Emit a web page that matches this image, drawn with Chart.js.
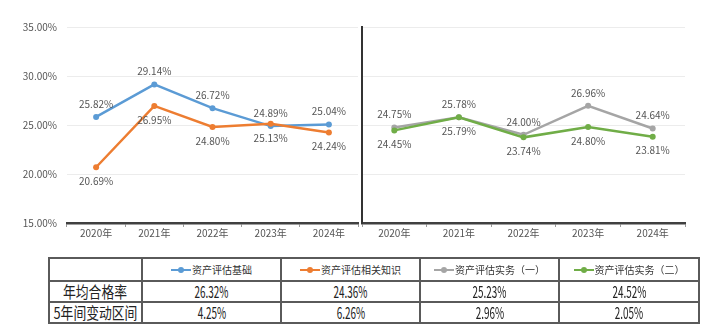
<!DOCTYPE html>
<html>
<head>
<meta charset="utf-8">
<script src="https://cdn.jsdelivr.net/npm/chart.js@4.4.1/dist/chart.umd.min.js"></script>
<style>
  html, body { margin: 0; padding: 0; background: #fff; width: 719px; height: 336px; overflow: hidden; }
  #left { position: absolute; left: 0; top: 0; width: 362px; height: 245px; }
  #right { position: absolute; left: 358px; top: 0; width: 331px; height: 245px; }
  table { position: absolute; left: 48px; top: 257px; border-collapse: collapse; width: 650px;
          font-family: "Noto Sans CJK SC", sans-serif; table-layout: fixed; }
  td { border: 2px solid #5a5a5a; text-align: center; padding: 0; color: #222; overflow: hidden; white-space: nowrap; }
  tr.h td { height: 21px; font-size: 10px; color: #333; line-height: 21px; }
  tr.d td { height: 19px; line-height: 19px; }
  .sw { display: inline-block; position: relative; width: 20px; height: 2px; vertical-align: middle; margin-right: 1px; top: -1px; }
  .sw i { position: absolute; left: 7px; top: -2px; width: 6px; height: 6px; border-radius: 50%; }
  .lab { display: inline-block; font-size: 16px; transform: scaleX(0.8); line-height: 19px; margin: 0 -30px; vertical-align: top; }
  .val { display: inline-block; font-size: 16px; transform: scaleX(0.62); line-height: 19px; margin: 0 -30px; vertical-align: top; }
</style>
</head>
<body>
<div id="left"><canvas id="c1"></canvas></div>
<div id="right"><canvas id="c2"></canvas></div>
<table id="tbl"></table>
<script>
// ---- data ----
const years = ['2020年', '2021年', '2022年', '2023年', '2024年'];
const basics = [25.82, 29.14, 26.72, 24.89, 25.04];
const related = [20.69, 26.95, 24.80, 25.13, 24.24];
const practice1 = [24.75, 25.78, 24.00, 26.96, 24.64];
const practice2 = [24.45, 25.79, 23.74, 24.80, 23.81];
const seriesNames = ['资产评估基础', '资产评估相关知识', '资产评估实务（一）', '资产评估实务（二）'];
const rowLabels = ['年均合格率', '5年间变动区间'];
const avgRate = ['26.32%', '24.36%', '25.23%', '24.52%'];
const range5 = ['4.25%', '6.26%', '2.96%', '2.05%'];
const yMin = 15, yMax = 35, yStep = 5;

const colors = ['#5B9BD5', '#ED7D31', '#A5A5A5', '#70AD47'];
const FONT = '"Noto Sans CJK SC", sans-serif';

const labelPlugin = {
  id: 'valLabels',
  afterDatasetsDraw(chart) {
    const ctx = chart.ctx;
    ctx.save();
    ctx.font = '10px ' + FONT;
    ctx.fillStyle = '#555';
    ctx.textAlign = 'center';
    ctx.textBaseline = 'middle';
    chart.data.datasets.forEach((ds, i) => {
      const meta = chart.getDatasetMeta(i);
      meta.data.forEach((pt, j) => {
        const off = ds.labelAbove ? -13 : 14;
        ctx.fillText(ds.data[j].toFixed(2) + '%', pt.x, pt.y + off);
      });
    });
    ctx.restore();
  }
};

function makeDs(label, data, color, above, order) {
  return {
    label, data, borderColor: color, backgroundColor: color,
    borderWidth: 2.5, pointRadius: 3, pointBorderWidth: 0, pointBackgroundColor: color,
    tension: 0, labelAbove: above, order
  };
}

function makeOptions(showY) {
  return {
    responsive: true, maintainAspectRatio: false, animation: false,
    layout: { padding: { top: 27, left: 0, right: 0, bottom: 0 } },
    plugins: { legend: { display: false }, tooltip: { enabled: false } },
    scales: {
      x: {
        offset: true,
        grid: { display: true, drawOnChartArea: false, drawTicks: true, tickLength: 4, offset: true, color: '#999' },
        border: { display: true, color: '#404040', width: 2.5 },
        ticks: { font: { size: 10, family: FONT }, color: '#555', padding: 0, maxRotation: 0 },
        afterFit(s) { s.height = 22; }
      },
      y: {
        min: yMin, max: yMax,
        grid: { color: '#ececec', drawTicks: false, lineWidth: 1 },
        border: showY ? { display: false } : { display: true, color: '#333', width: 2 },
        ticks: {
          display: showY, stepSize: yStep, padding: 10,
          font: { size: 10, family: FONT }, color: '#555',
          callback: v => v.toFixed(2) + '%'
        },
        afterFit(s) { s.width = showY ? 67 : 2; }
      }
    }
  };
}

new Chart(document.getElementById('c1'), {
  type: 'line',
  data: { labels: years, datasets: [
    makeDs(seriesNames[0], basics, colors[0], true, 2),
    makeDs(seriesNames[1], related, colors[1], false, 1)
  ] },
  options: makeOptions(true),
  plugins: [labelPlugin]
});

new Chart(document.getElementById('c2'), {
  type: 'line',
  data: { labels: years, datasets: [
    makeDs(seriesNames[2], practice1, colors[2], true, 2),
    makeDs(seriesNames[3], practice2, colors[3], false, 1)
  ] },
  options: makeOptions(false),
  plugins: [labelPlugin]
});

// ---- table ----
const tbl = document.getElementById('tbl');
const colg = document.createElement('colgroup');
[93, 139, 139, 139, 140].forEach(w => { const c = document.createElement('col'); c.style.width = w + 'px'; colg.appendChild(c); });
tbl.appendChild(colg);
const hr = document.createElement('tr'); hr.className = 'h';
hr.appendChild(document.createElement('td'));
seriesNames.forEach((n, i) => {
  const td = document.createElement('td');
  const sw = document.createElement('span'); sw.className = 'sw'; sw.style.background = colors[i];
  const dot = document.createElement('i'); dot.style.background = colors[i]; sw.appendChild(dot);
  td.appendChild(sw);
  td.appendChild(document.createTextNode(n));
  hr.appendChild(td);
});
tbl.appendChild(hr);
[avgRate, range5].forEach((vals, r) => {
  const tr = document.createElement('tr'); tr.className = 'd';
  const th = document.createElement('td');
  th.innerHTML = '<span class="lab"></span>'; th.firstChild.textContent = rowLabels[r];
  tr.appendChild(th);
  vals.forEach(v => {
    const td = document.createElement('td');
    td.innerHTML = '<span class="val"></span>'; td.firstChild.textContent = v;
    tr.appendChild(td);
  });
  tbl.appendChild(tr);
});
</script>
</body>
</html>
